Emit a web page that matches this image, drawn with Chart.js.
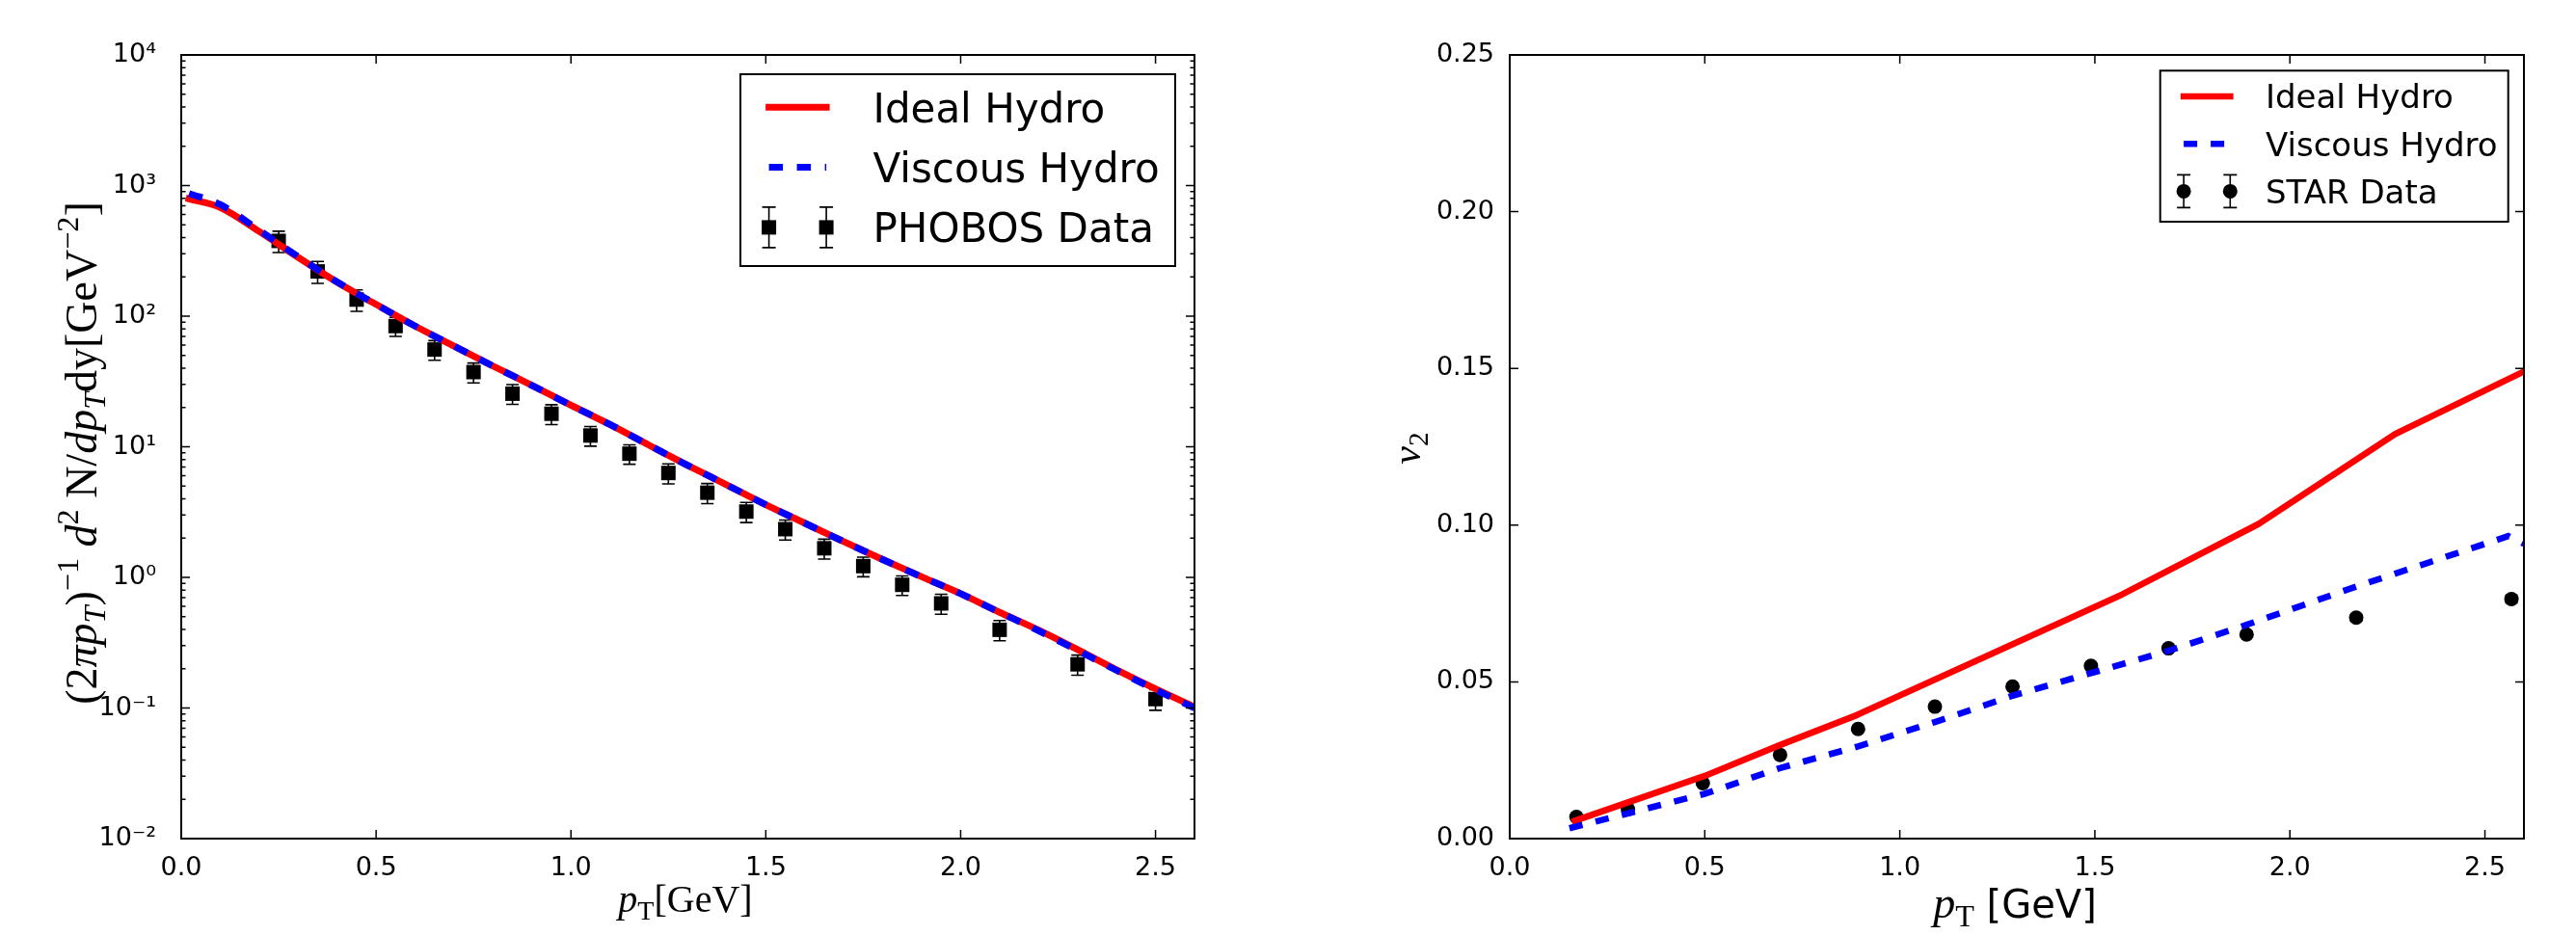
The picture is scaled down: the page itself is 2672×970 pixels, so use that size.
<!DOCTYPE html>
<html>
<head>
<meta charset="utf-8">
<script src="https://cdn.jsdelivr.net/npm/chart.js@4.4.0/dist/chart.umd.min.js"></script>
<style>
    html, body { margin: 0; padding: 0; background: #fff; }
    #wrap { position: relative; width: 2672px; height: 970px; }
    .panel { position: absolute; top: 0; width: 1336px; height: 970px; }
</style>
</head>
<body>
<div id="wrap">
    <div class="panel" style="left:0"><canvas id="spectra" width="1336" height="970"></canvas></div>
    <div class="panel" style="left:1336px"><canvas id="flow" width="1336" height="970"></canvas></div>
</div>
<script>
// ---- left panel: pT spectra (log y) ----
var ptModel = [0.02, 0.1, 0.2, 0.3, 0.4, 0.5, 0.6, 0.7, 0.8, 0.9, 1.0, 1.1, 1.2, 1.3,
               1.4, 1.5, 1.6, 1.7, 1.8, 1.9, 2.0, 2.1, 2.2, 2.3, 2.4, 2.5, 2.6];
var idealSpec = [790, 680, 445, 282, 182, 123, 84, 59, 41.5, 29.5, 20.8, 14.8, 10.3, 7.2,
                 5.1, 3.6, 2.6, 1.88, 1.37, 1.01, 0.75, 0.54, 0.395, 0.28, 0.196, 0.14, 0.102];
var viscousSpec = [870, 715, 455, 285, 183, 123, 84, 59, 41.5, 29.5, 20.8, 14.8, 10.3, 7.2,
                   5.1, 3.6, 2.6, 1.88, 1.37, 1.01, 0.75, 0.54, 0.39, 0.276, 0.194, 0.138, 0.1];
var phobosPt = [0.25, 0.35, 0.45, 0.55, 0.65, 0.75, 0.85, 0.95, 1.05, 1.15, 1.25,
                1.35, 1.45, 1.55, 1.65, 1.75, 1.85, 1.95, 2.1, 2.3, 2.5];
var phobosYield = [377, 220, 134, 84, 55.5, 37.3, 25.5, 17.9, 12.2, 8.85, 6.3,
                   4.45, 3.19, 2.34, 1.67, 1.22, 0.877, 0.632, 0.397, 0.216, 0.117];
var phobosErr = [70, 42, 25, 14, 9.5, 6.5, 4.4, 3.1, 2.1, 1.5, 1.1,
                 0.78, 0.56, 0.41, 0.29, 0.21, 0.15, 0.11, 0.07, 0.038, 0.021];
var specTicksX = [0, 0.5, 1.0, 1.5, 2.0, 2.5];
var specTicksY = [0.01, 0.1, 1, 10, 100, 1000, 10000];
var specTickLabels = ['10\u207B\u00B2', '10\u207B\u00B9', '10\u2070', '10\u00B9', '10\u00B2', '10\u00B3', '10\u2074'];

// ---- right panel: elliptic flow v2 ----
var idealV2Pt = [0.167, 0.50, 0.69, 0.89, 1.57, 1.92, 2.27, 2.60];
var idealV2 = [0.0057, 0.0200, 0.0297, 0.0394, 0.0779, 0.1004, 0.1291, 0.1490];
var viscousV2Pt = [0.153, 0.50, 0.693, 0.893, 1.09, 1.289, 1.49, 1.689, 1.889, 2.17, 2.56, 2.60];
var viscousV2 = [0.0033, 0.0143, 0.0225, 0.0294, 0.0372, 0.0456, 0.0528, 0.0599, 0.0682, 0.0804, 0.0965, 0.0940];
var starPt = [0.171, 0.303, 0.495, 0.693, 0.893, 1.09, 1.289, 1.49, 1.689, 1.889, 2.17, 2.568];
var starV2 = [0.0069, 0.0094, 0.0177, 0.0267, 0.0350, 0.0421, 0.0485, 0.0551, 0.0607, 0.0651, 0.0705, 0.0764];
var starErr = [0.0003, 0.0003, 0.0004, 0.0004, 0.0005, 0.0005, 0.0006, 0.0007, 0.0008, 0.0009, 0.0010, 0.0012];
var flowTicksX = [0, 0.5, 1.0, 1.5, 2.0, 2.5];
var flowTicksY = [0, 0.05, 0.10, 0.15, 0.20, 0.25];

Chart.defaults.color = '#000';
Chart.defaults.font.family = '"DejaVu Sans", sans-serif';

function pts(xs, ys) {
    return xs.map(function (x, i) { return { x: x, y: ys[i] }; });
}

// draws a run of text pieces with mixed fonts (math-ish labels)
function drawRich(ctx, parts, size, cx, cy, angle) {
    var items = [], total = 0;
    parts.forEach(function (p) {
        var px = size * p[2];
        var fam = p[1] === 's' ? '"DejaVu Sans"' : '"Liberation Serif"';
        var font = (p[1] === 'i' ? 'italic ' : '') + px.toFixed(1) + 'px ' + fam;
        ctx.font = font;
        var w = ctx.measureText(p[0]).width;
        items.push({ t: p[0], font: font, dy: size * p[3], w: w });
        total += w;
    });
    ctx.save();
    ctx.translate(cx, cy);
    ctx.rotate(angle);
    ctx.fillStyle = '#000';
    ctx.textAlign = 'left';
    ctx.textBaseline = 'alphabetic';
    var x = -total / 2;
    items.forEach(function (it) {
        ctx.font = it.font;
        ctx.fillText(it.t, x, it.dy);
        x += it.w;
    });
    ctx.restore();
}

var axisText = {
    id: 'axisText',
    afterDraw: function (chart, args, opts) {
        (opts.items || []).forEach(function (it) {
            drawRich(chart.ctx, it.parts, it.size, it.x, it.y, it.angle || 0);
        });
    }
};

// inward ticks on all four sides + axes frame (old matplotlib look)
var frameTicks = {
    id: 'frameTicks',
    afterDatasetsDraw: function (chart) {
        var ctx = chart.ctx, a = chart.chartArea, xs = chart.scales.x, ys = chart.scales.y;
        ctx.save();
        ctx.strokeStyle = '#000';
        ctx.lineWidth = 1.5;
        ctx.beginPath();
        xs.ticks.forEach(function (t) {
            var px = xs.getPixelForValue(t.value);
            ctx.moveTo(px, a.bottom); ctx.lineTo(px, a.bottom - 9);
            ctx.moveTo(px, a.top); ctx.lineTo(px, a.top + 9);
        });
        ys.ticks.forEach(function (t) {
            var py = ys.getPixelForValue(t.value);
            ctx.moveTo(a.left, py); ctx.lineTo(a.left + 9, py);
            ctx.moveTo(a.right, py); ctx.lineTo(a.right - 9, py);
        });
        if (ys.type === 'logarithmic') {
            for (var d = -2; d < 4; d++) {
                for (var k = 2; k < 10; k++) {
                    var py = ys.getPixelForValue(k * Math.pow(10, d));
                    ctx.moveTo(a.left, py); ctx.lineTo(a.left + 4.5, py);
                    ctx.moveTo(a.right, py); ctx.lineTo(a.right - 4.5, py);
                }
            }
        }
        ctx.stroke();
        ctx.lineWidth = 2;
        ctx.strokeRect(a.left, a.top, a.right - a.left, a.bottom - a.top);
        ctx.restore();
    }
};

// vertical error bars with caps, under the markers
var errorBars = {
    id: 'errorBars',
    beforeDatasetsDraw: function (chart) {
        var ctx = chart.ctx, a = chart.chartArea, xs = chart.scales.x, ys = chart.scales.y;
        ctx.save();
        ctx.beginPath();
        ctx.rect(a.left, a.top, a.right - a.left, a.bottom - a.top);
        ctx.clip();
        ctx.strokeStyle = '#000';
        ctx.lineWidth = 1.6;
        chart.data.datasets.forEach(function (ds) {
            if (!ds.errors) return;
            ds.data.forEach(function (p, i) {
                var e = ds.errors[i];
                var px = xs.getPixelForValue(p.x);
                var y1 = ys.getPixelForValue(p.y + e), y2 = ys.getPixelForValue(p.y - e);
                ctx.beginPath();
                ctx.moveTo(px, y1); ctx.lineTo(px, y2);
                ctx.moveTo(px - 6.5, y1); ctx.lineTo(px + 6.5, y1);
                ctx.moveTo(px - 6.5, y2); ctx.lineTo(px + 6.5, y2);
                ctx.stroke();
            });
        });
        ctx.restore();
    }
};

// boxed legend in the upper right corner
var boxLegend = {
    id: 'boxLegend',
    afterDraw: function (chart, args, o) {
        var ctx = chart.ctx, a = chart.chartArea;
        var x0 = a.right - o.inset - o.width, y0 = a.top + o.inset;
        ctx.save();
        ctx.fillStyle = '#fff';
        ctx.fillRect(x0, y0, o.width, o.height);
        ctx.lineWidth = 2;
        ctx.strokeStyle = '#000';
        ctx.strokeRect(x0, y0, o.width, o.height);
        chart.data.datasets.forEach(function (ds, i) {
            var cy = y0 + o.rowTop + i * o.rowGap;
            var xa = x0 + o.lineX[0], xb = x0 + o.lineX[1];
            if (ds.showLine === false) {
                [xa, xb].forEach(function (mx) {
                    ctx.strokeStyle = '#000';
                    ctx.lineWidth = 1.6;
                    ctx.setLineDash([]);
                    ctx.beginPath();
                    ctx.moveTo(mx, cy - o.errHalf); ctx.lineTo(mx, cy + o.errHalf);
                    ctx.moveTo(mx - 7, cy - o.errHalf); ctx.lineTo(mx + 7, cy - o.errHalf);
                    ctx.moveTo(mx - 7, cy + o.errHalf); ctx.lineTo(mx + 7, cy + o.errHalf);
                    ctx.stroke();
                    ctx.fillStyle = '#000';
                    ctx.beginPath();
                    if (ds.pointStyle === 'rect') {
                        var h = ds.pointRadius * Math.SQRT1_2;
                        ctx.rect(mx - h, cy - h, 2 * h, 2 * h);
                    } else {
                        ctx.arc(mx, cy, ds.pointRadius, 0, Math.PI * 2);
                    }
                    ctx.fill();
                });
            } else {
                ctx.strokeStyle = ds.borderColor;
                ctx.lineWidth = ds.borderWidth;
                ctx.setLineDash(ds.borderDash || []);
                ctx.lineCap = ds.borderCapStyle || 'butt';
                ctx.beginPath();
                ctx.moveTo(xa, cy); ctx.lineTo(xb, cy);
                ctx.stroke();
                ctx.setLineDash([]);
                ctx.lineCap = 'butt';
            }
            ctx.fillStyle = '#000';
            ctx.font = o.size + 'px "DejaVu Sans"';
            ctx.textAlign = 'left';
            ctx.textBaseline = 'alphabetic';
            ctx.fillText(ds.label, x0 + o.textX, cy + o.size * 0.365);
        });
        ctx.restore();
    }
};

var tickFont = { family: '"DejaVu Sans"', size: 27 };

// left: spectra
new Chart(document.getElementById('spectra'), {
    type: 'line',
    data: {
        datasets: [
            {
                label: 'Ideal Hydro', data: pts(ptModel, idealSpec),
                borderColor: '#ff0000', borderWidth: 7, borderCapStyle: 'square', borderJoinStyle: 'round',
                pointRadius: 0, cubicInterpolationMode: 'monotone', order: 1
            },
            {
                label: 'Viscous Hydro', data: pts(ptModel, viscousSpec),
                borderColor: '#0000ff', borderWidth: 7, borderDash: [14.5, 14.5],
                pointRadius: 0, cubicInterpolationMode: 'monotone', order: 0
            },
            {
                label: 'PHOBOS Data', data: pts(phobosPt, phobosYield), errors: phobosErr,
                showLine: false, pointStyle: 'rect', pointRadius: 10.6,
                pointBackgroundColor: '#000', pointBorderWidth: 0, borderColor: '#000', order: 2
            }
        ]
    },
    options: {
        responsive: false,
        animation: false,
        devicePixelRatio: 1,
        layout: { padding: { top: 57, right: 97, left: 0, bottom: 0 } },
        plugins: {
            legend: { display: false },
            tooltip: { enabled: false },
            boxLegend: {
                inset: 20, width: 451, height: 199, rowTop: 34.3, rowGap: 62.3,
                lineX: [29.6, 89.1], textX: 137.5, size: 42, errHalf: 21
            },
            axisText: {
                items: [
                    {
                        size: 46, x: 100, y: 470, angle: -Math.PI / 2,
                        parts: [['(', 'r', 1, 0], ['2', 'r', 1, 0], ['\u03C0', 'i', 1, 0], ['p', 'i', 1, 0],
                                ['T', 'i', 0.7, 0.2], [')', 'r', 1, 0], ['\u22121', 'r', 0.7, -0.42],
                                [' ', 'r', 1, 0], ['d', 'i', 1, 0], ['2', 'r', 0.7, -0.42], [' N', 'r', 1, 0],
                                ['/', 'r', 1, 0], ['dp', 'i', 1, 0], ['T', 'i', 0.7, 0.2], ['dy', 'r', 1, 0],
                                ['[GeV', 'r', 1, 0], ['\u22122', 'r', 0.7, -0.42], [']', 'r', 1, 0]]
                    },
                    {
                        size: 40, x: 711, y: 946, angle: 0,
                        parts: [['p', 'i', 1, 0], ['T', 'r', 0.7, 0.2], ['[GeV]', 'r', 1, 0]]
                    }
                ]
            }
        },
        scales: {
            x: {
                type: 'linear', min: 0, max: 2.6,
                grid: { display: false }, border: { display: false },
                afterBuildTicks: function (s) { s.ticks = specTicksX.map(function (v) { return { value: v }; }); },
                afterFit: function (s) { s.height = 100; },
                ticks: {
                    font: tickFont, padding: 7, maxRotation: 0, autoSkip: false,
                    callback: function (v) { return v.toFixed(1); }
                }
            },
            y: {
                type: 'logarithmic', min: 0.01, max: 10000,
                grid: { display: false }, border: { display: false },
                afterBuildTicks: function (s) { s.ticks = specTicksY.map(function (v) { return { value: v }; }); },
                afterFit: function (s) { s.width = 188; },
                ticks: {
                    font: tickFont, padding: 18, autoSkip: false,
                    callback: function (v, i) { return specTickLabels[i]; }
                }
            }
        }
    },
    plugins: [errorBars, frameTicks, boxLegend, axisText]
});

// right: v2
new Chart(document.getElementById('flow'), {
    type: 'line',
    data: {
        datasets: [
            {
                label: 'Ideal Hydro', data: pts(idealV2Pt, idealV2),
                borderColor: '#ff0000', borderWidth: 6.6, borderCapStyle: 'square', borderJoinStyle: 'round',
                pointRadius: 0, order: 1
            },
            {
                label: 'Viscous Hydro', data: pts(viscousV2Pt, viscousV2),
                borderColor: '#0000ff', borderWidth: 6.6, borderDash: [14, 14],
                pointRadius: 0, order: 0
            },
            {
                label: 'STAR Data', data: pts(starPt, starV2), errors: starErr,
                showLine: false, pointStyle: 'circle', pointRadius: 7.5,
                pointBackgroundColor: '#000', pointBorderWidth: 0, borderColor: '#000', order: 2
            }
        ]
    },
    options: {
        responsive: false,
        animation: false,
        devicePixelRatio: 1,
        layout: { padding: { top: 57, right: 54, left: 0, bottom: 0 } },
        plugins: {
            legend: { display: false },
            tooltip: { enabled: false },
            boxLegend: {
                inset: 16.3, width: 361, height: 156.7, rowTop: 26.7, rowGap: 49.2,
                lineX: [24.4, 72.6], textX: 109.3, size: 34, errHalf: 17
            },
            axisText: {
                items: [
                    {
                        size: 42, x: 137, y: 465, angle: -Math.PI / 2,
                        parts: [['v', 'i', 1, 0], ['2', 'r', 0.7, 0.2]]
                    },
                    {
                        size: 46, x: 754, y: 952, angle: 0,
                        parts: [['p', 'i', 1, 0], ['T', 'r', 0.7, 0.2], [' [GeV]', 's', 0.87, 0]]
                    }
                ]
            }
        },
        scales: {
            x: {
                type: 'linear', min: 0, max: 2.6,
                grid: { display: false }, border: { display: false },
                afterBuildTicks: function (s) { s.ticks = flowTicksX.map(function (v) { return { value: v }; }); },
                afterFit: function (s) { s.height = 100; },
                ticks: {
                    font: tickFont, padding: 7, maxRotation: 0, autoSkip: false,
                    callback: function (v) { return v.toFixed(1); }
                }
            },
            y: {
                type: 'linear', min: 0, max: 0.25,
                grid: { display: false }, border: { display: false },
                afterBuildTicks: function (s) { s.ticks = flowTicksY.map(function (v) { return { value: v }; }); },
                afterFit: function (s) { s.width = 230; },
                ticks: {
                    font: tickFont, padding: 8, autoSkip: false,
                    callback: function (v) { return v.toFixed(2); }
                }
            }
        }
    },
    plugins: [errorBars, frameTicks, boxLegend, axisText]
});
</script>
</body>
</html>
